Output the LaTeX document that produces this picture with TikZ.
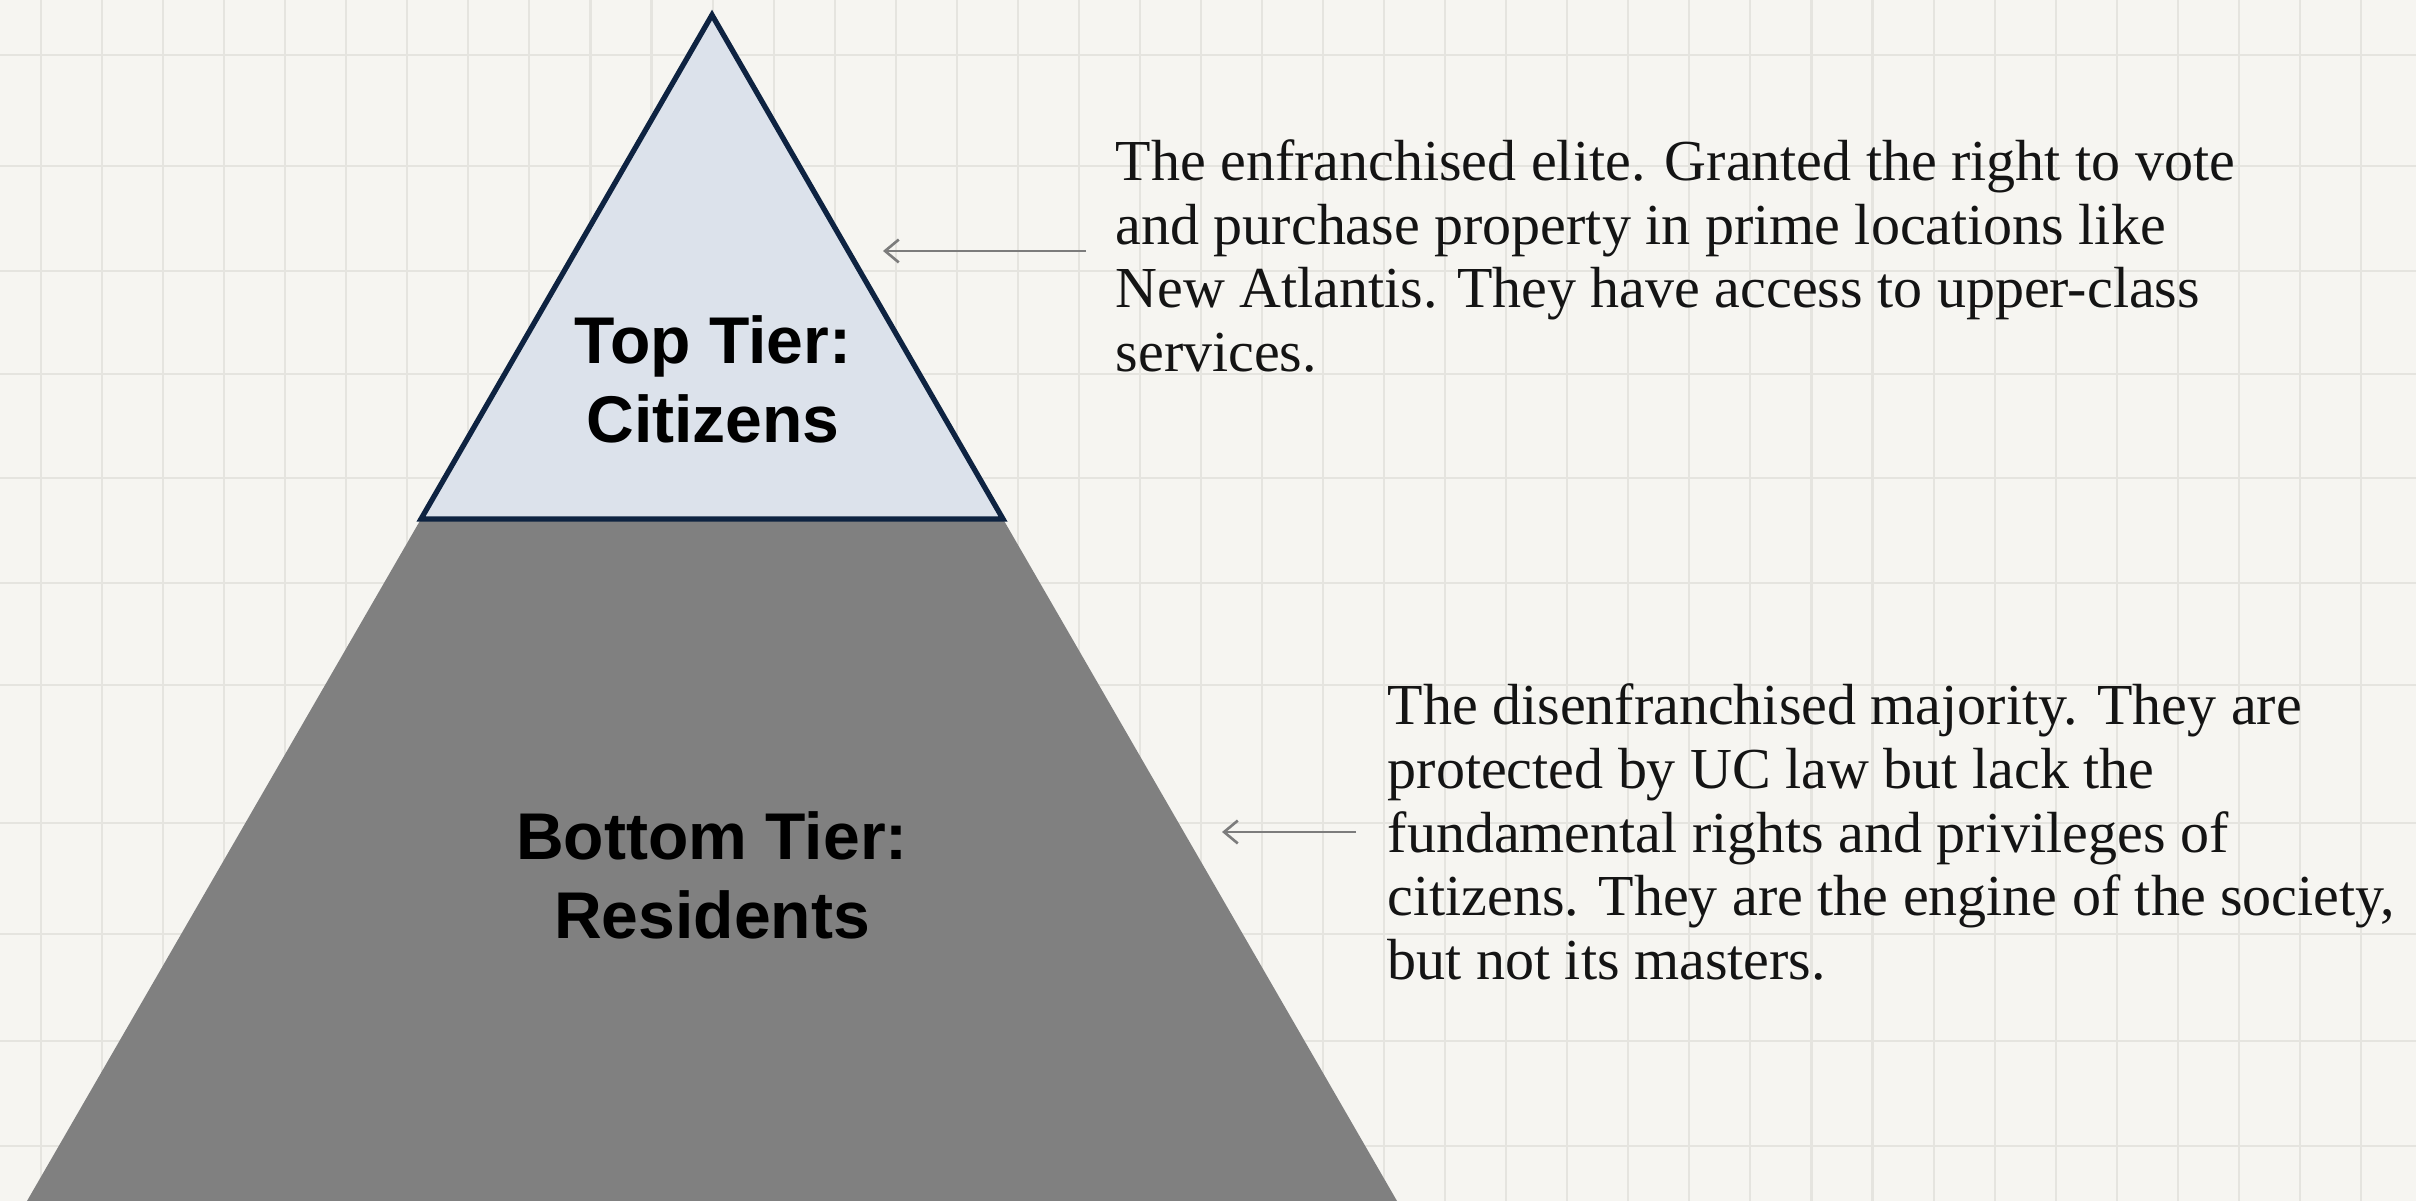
\documentclass[tikz,border=0pt]{standalone}
\usepackage{fontspec}
\setmainfont{Liberation Serif}
\newfontfamily\tiersans{Liberation Sans}
\usetikzlibrary{arrows.meta}
\definecolor{paper}{HTML}{F6F5F1}
\definecolor{gridgray}{HTML}{E5E4DF}
\definecolor{citizenfill}{HTML}{DCE2EB}
\definecolor{citizenline}{HTML}{0E2341}
\definecolor{residentfill}{HTML}{808080}
\definecolor{pointergray}{HTML}{7C7C7C}
\definecolor{notetext}{HTML}{141414}

\begin{document}
\begin{tikzpicture}[
	tierlabel/.style={font=\tiersans\bfseries\fontsize{18.8}{22.5}\selectfont, align=center, inner sep=0pt},
	tiernote/.style={font=\fontsize{16.5}{18.2}\selectfont, align=left, anchor=west, inner sep=0pt, text=notetext},
	pointer/.style={-{Straight Barb[length=3.9pt,width=6.5pt]}, pointergray, line width=0.75pt}
]
	\useasboundingbox (0,0) rectangle (24.16,12.01);
	\fill[paper] (0,0) rectangle (24.16,12.01);
	\foreach \x in {0,...,38}
		\draw[gridgray, line width=0.6pt] ({0.41+0.6105*\x},0) -- ++(0,12.01);
	\foreach \y in {11.46,10.35,9.30,8.27,7.23,6.18,5.16,3.78,2.67,1.60,0.55}
		\draw[gridgray, line width=0.6pt] (0,\y) -- (24.16,\y);

	\coordinate (apex) at (7.12,11.86);
	\coordinate (midL) at (4.21,6.82);
	\coordinate (midR) at (10.03,6.82);
	\coordinate (baseL) at (0.27,0);
	\coordinate (baseR) at (13.97,0);

	\fill[residentfill] (midL) -- (midR) -- (baseR) -- (baseL) -- cycle;
	\draw[citizenline, fill=citizenfill, line width=1.5pt, line join=miter] (apex) -- (midR) -- (midL) -- cycle;

	\node[tierlabel] (citizens) at (7.13,8.22) {Top Tier:\\Citizens};
	\node[tierlabel] (residents) at (7.12,3.26) {Bottom Tier:\\Residents};

	\node[tiernote] (citizensnote) at (11.15,9.45) {The enfranchised elite. Granted the right to vote\\and purchase property in prime locations like\\New Atlantis. They have access to upper-class\\services.};
	\node[tiernote] (residentsnote) at (13.87,3.69) {The disenfranchised majority. They are\\protected by UC law but lack the\\fundamental rights and privileges of\\citizens. They are the engine of the society,\\but not its masters.};

	\coordinate (citizenstip) at (8.83,9.50);
	\coordinate (residentstip) at (12.22,3.69);
	\draw[pointer] ([xshift=-0.29cm]citizensnote.west |- citizenstip) -- (citizenstip);
	\draw[pointer] ([xshift=-0.31cm]residentsnote.west) -- (residentstip);
\end{tikzpicture}
\end{document}
